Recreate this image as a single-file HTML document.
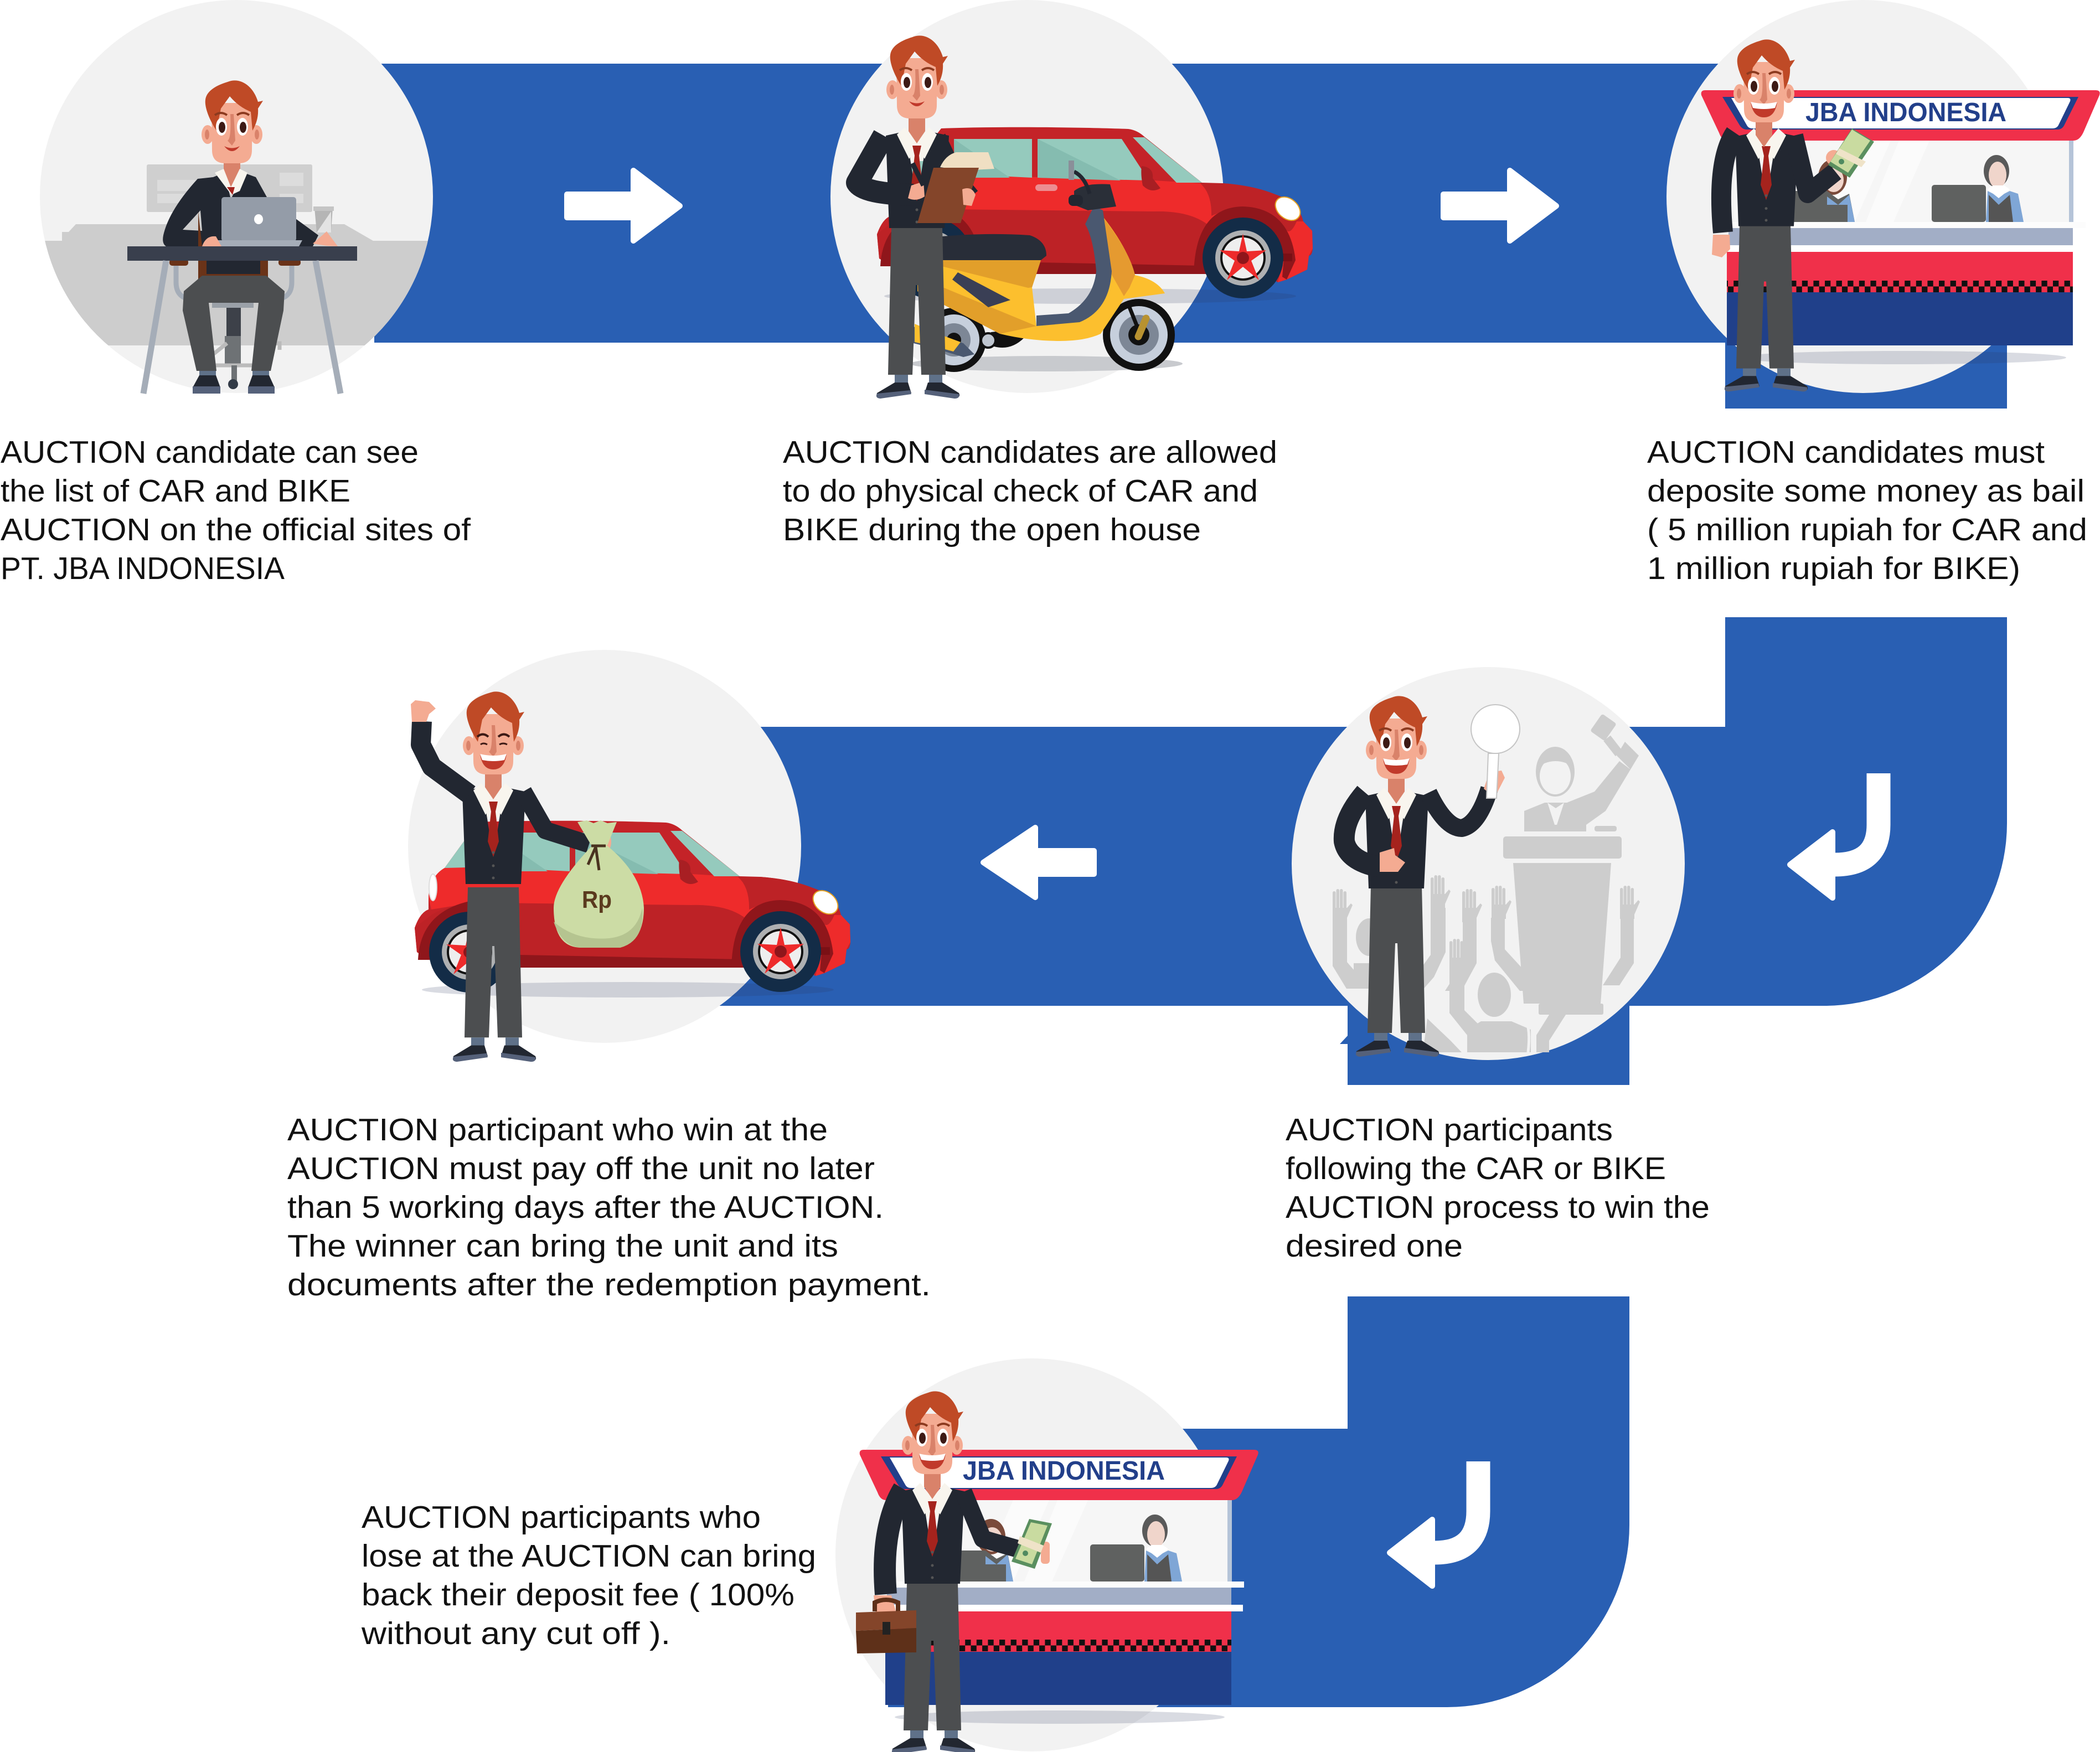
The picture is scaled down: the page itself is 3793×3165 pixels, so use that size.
<!DOCTYPE html>
<html><head><meta charset="utf-8"><style>html,body{margin:0;padding:0;background:#fff}svg{display:block}
.t{font-family:"Liberation Sans",sans-serif;font-size:57px;fill:#111}
.b{font-family:"Liberation Sans",sans-serif;font-weight:bold;font-size:48px;fill:#223f8a}</style></head><body>
<svg xmlns="http://www.w3.org/2000/svg" width="3793" height="3165" viewBox="0 0 3793 3165">
<defs>
<clipPath id="c1"><circle cx="427" cy="355" r="355"/></clipPath>
<clipPath id="c5"><rect x="2300" y="1200" width="760" height="701"/></clipPath>
<pattern id="chk" patternUnits="userSpaceOnUse" x="0" y="507" width="20.6" height="21"><rect x="0" y="0" width="10.3" height="10.5" fill="#111"/><rect x="10.3" y="10.5" width="10.3" height="10.5" fill="#111"/></pattern>
<pattern id="chk2" patternUnits="userSpaceOnUse" x="1599" y="2962" width="20.6" height="21"><rect x="0" y="0" width="10.3" height="10.5" fill="#111"/><rect x="10.3" y="10.5" width="10.3" height="10.5" fill="#111"/></pattern>

<g id="headbase">
<ellipse cx="-44" cy="97" rx="11" ry="17" fill="#f4ab92"/><ellipse cx="44" cy="97" rx="11" ry="17" fill="#f4ab92"/>
<ellipse cx="-45" cy="97" rx="4" ry="9" fill="#d9826a"/><ellipse cx="45" cy="97" rx="4" ry="9" fill="#d9826a"/>
<path d="M-15,135H15V172L0,194L-15,172Z" fill="#d9826a"/>
<path d="M-37,40H37L36,125Q36,149 12,149H-12Q-36,149 -36,125Z" fill="#f4ab92"/>
<path d="M-3,60L3,60L6,108L0,117L-8,108Q-1,105 -3,60Z" fill="#d9826a"/>
<path d="M-8,2C14,-7 38,8 47,38L56,36L47,50C48,65 44,78 37,90L34,56C20,50 8,42 -4,28L-20,50L-28,90C-40,72 -50,48 -48,34C-46,18 -28,8 -8,2Z" fill="#bf4a26"/>
</g>
<g id="eyes">
<path d="M-31,62Q-20,54 -9,62" stroke="#8c3a1f" stroke-width="4" fill="none"/><path d="M9,62Q20,54 31,62" stroke="#8c3a1f" stroke-width="4" fill="none"/>
<ellipse cx="-19" cy="83" rx="10" ry="16" fill="#fff"/><ellipse cx="19" cy="83" rx="10" ry="16" fill="#fff"/>
<ellipse cx="-18" cy="84" rx="6" ry="10" fill="#3d1a15"/><ellipse cx="20" cy="84" rx="6" ry="10" fill="#3d1a15"/>
</g>
<path id="smile" d="M-14,118Q0,136 14,118Q0,125 -14,118Z" fill="#c0392b"/>
<g id="openm"><path d="M-24,112Q0,120 24,112Q20,140 0,140Q-20,140 -24,112Z" fill="#c13a2b"/><path d="M-24,112Q0,118 24,112L20,123Q0,127 -20,123Z" fill="#fff"/></g>

<g id="torso">
<path d="M-20,166L-14,185L-2,225L0,225L14,185L22,166L38,226L-38,226Z" fill="#f8f5ee"/>
<path d="M-20,172L-56,180L-50,347H50L58,180L20,172L0,298Z" fill="#222731"/>
<path d="M-22,165L-36,178L-14,222L0,198L14,222L36,178L22,165L0,192Z" fill="#f8f5ee"/>
<path d="M-8,198H8L4,216L10,270L0,298L-10,270L-4,216Z" fill="#a5231d"/>
<circle cx="0" cy="290" r="2.500" fill="#555"/><circle cx="0" cy="314" r="2.500" fill="#555"/><circle cx="0" cy="336" r="2.500" fill="#555"/>
</g>
<g id="legs">
<path d="M-46,346H46L52,612H8L2,450H-2L-8,612H-52Z" fill="#4c4e50"/>
<rect x="-40" y="612" width="24" height="16" fill="#5f7189"/><rect x="22" y="612" width="24" height="16" fill="#5f7189"/>
<path d="M-16,626L-40,626L-72,645Q-74,652 -66,652L-10,645Z" fill="#222731"/>
<path d="M-72,646L-12,640L-10,647L-66,655Q-76,654 -72,646Z" fill="#55617a"/>
<path d="M20,626L46,626L76,645Q80,653 70,653L14,645Z" fill="#222731"/>
<path d="M14,639L76,647Q78,655 68,655L14,647Z" fill="#55617a"/>
</g>

<g id="car">
<ellipse cx="385" cy="305" rx="372" ry="14" fill="#2f3a60" opacity=".18"/>
<path d="M116,2C220,-2 380,0 454,3Q470,5 483,17L587,100L624,101Q680,105 719,121Q762,135 770,170L786,187L787,219Q786,232 780,232L777,257L740,275L724,280L700,265H100L27,251L4,237L0,193Q10,165 25,160L25,137Q28,100 54,85L91,34Z" fill="#c42328"/>
<path d="M79,84L500,96L584,101Q620,140 624,170L600,265H500L92,150L30,160L25,137Q28,100 54,85Z" fill="#ee2b2b"/>
<path d="M30,170Q60,150 130,148L500,152Q580,150 612,190L600,265H80L27,251L4,237L0,193Z" fill="#bd2226"/>
<path d="M90,240L590,250L600,265L110,265Z" fill="#8f161b"/>
<path d="M745,170L770,170L786,187L787,219L780,232L777,257L740,275L724,280L735,236Q735,200 745,170Z" fill="#ee2b2b"/>
<path d="M624,101Q680,105 719,121Q755,135 758,170Q745,200 735,180Q700,135 640,145L604,160Q605,120 584,101Z" fill="#bd2226"/>
<path d="M572,265Q575,145 660,143Q745,145 756,240L740,275L732,270L735,236Q720,170 660,165Q595,170 590,265Z" fill="#8f161b"/>
<path d="M6,251Q10,165 99,145Q185,150 190,265H165Q160,170 99,165Q30,175 27,251Z" fill="#8f161b"/>
<path d="M139,21H280V91L140,84Z" fill="#95cabd"/><path d="M139,21L240,91H140Z" fill="#85bcb0"/>
<path d="M290,21H442L491,96L290,91Z" fill="#95cabd"/><path d="M290,21L440,96L290,91Z" fill="#85bcb0"/>
<path d="M462,18H483L587,100H541Z" fill="#95cabd"/>
<path d="M54,85L91,34L95,84Z" fill="#95cabd"/>
<path d="M478,70Q500,72 498,92L512,110Q495,120 480,105Q476,85 478,70Z" fill="#a81f23"/>
<rect x="286" y="103" width="40" height="12" rx="6" fill="#ec8d91"/>
<ellipse cx="742" cy="147" rx="25" ry="18" fill="#fff" stroke="#e5a020" stroke-width="2" transform="rotate(40 742 147)"/>
<ellipse cx="33" cy="120" rx="7" ry="24" fill="#fff" stroke="#ddd" stroke-width="2"/>
<rect x="725" y="228" width="25" height="14" fill="#7a1015"/>
<g><circle cx="661" cy="236" r="73" fill="#132c47"/><circle cx="661" cy="236" r="50" fill="#aeb0b2"/><circle cx="661" cy="236" r="41" fill="#111"/><circle cx="661" cy="236" r="37" fill="#eee"/>
<path d="M661,192L668,224L703,222L676,241L690,276L661,252L632,276L646,241L619,222L654,224Z" fill="#ee2b2b"/><circle cx="661" cy="236" r="11" fill="#8f161b"/></g>
<g transform="translate(-562,1)"><circle cx="661" cy="236" r="73" fill="#132c47"/><circle cx="661" cy="236" r="50" fill="#aeb0b2"/><circle cx="661" cy="236" r="41" fill="#111"/><circle cx="661" cy="236" r="37" fill="#eee"/>
<path d="M661,192L668,224L703,222L676,241L690,276L661,252L632,276L646,241L619,222L654,224Z" fill="#ee2b2b"/><circle cx="661" cy="236" r="11" fill="#8f161b"/></g>
</g>

<g id="booth">
<path d="M3132,254H3737V401H3132Z" fill="#f6f6f6"/>
<path d="M3350,254H3415L3350,401H3285Z" fill="#fbfbfb"/><path d="M3430,254H3485L3420,401H3370Z" fill="#fbfbfb"/>
<rect x="3737" y="254" width="8" height="147" fill="#b5c4d8"/>
<ellipse cx="3310" cy="320" rx="26" ry="32" fill="#7a4a3a"/><ellipse cx="3312" cy="325" rx="18" ry="22" fill="#f0d5cb"/>
<path d="M3240,345H3300L3320,360L3340,350L3350,401H3240Z" fill="#5f6160"/><path d="M3300,355L3320,370L3340,352L3350,401H3300Z" fill="#7fa6d6"/><path d="M3300,370H3337V401H3300Z" fill="#5f6160"/>
<ellipse cx="3606" cy="309" rx="23" ry="29" fill="#5a5a5a"/><ellipse cx="3608" cy="316" rx="16" ry="24" fill="#f0d5cb"/>
<path d="M3590,345L3610,355L3630,345L3645,350L3655,401H3587Z" fill="#7fa6d6"/><path d="M3592,352L3610,370L3630,352L3636,401H3592Z" fill="#555"/><path d="M3590,342L3610,358L3630,342L3620,335H3600Z" fill="#fff"/>
<rect x="3489" y="334" width="98" height="67" rx="5" fill="#5f6160"/>
<path d="M3080,163H3785Q3795,163 3792,172L3763,239Q3756,254 3745,254H3120Q3110,254 3105,240L3073,172Q3071,163 3080,163Z" fill="#f0304a"/>
<path d="M3111,175H3754L3728,227Q3724,234 3716,234H3155Q3147,234 3142,226Z" fill="#223f8a"/>
<path d="M3127,177H3735Q3741,177 3739,183L3718,226Q3715,232 3707,232H3165Q3158,232 3155,226L3127,177Z" fill="#fff"/>
<rect x="3122" y="401" width="645" height="11" fill="#fcfcfc"/>
<rect x="3122" y="412" width="622" height="31" fill="#a2aec6"/>
<rect x="3119" y="443" width="646" height="12" fill="#fff"/>
<rect x="3119" y="455" width="625" height="54" fill="#f0304a"/>
<rect x="3119" y="507" width="625" height="21" fill="#f0304a"/>
<rect x="3119" y="528" width="625" height="96" fill="#20408a"/>
<ellipse cx="3434" cy="646" rx="298" ry="12" fill="#2f3a60" opacity=".18"/>
</g>
<g id="cash"><path d="M3345,232L3385,256L3341,321L3302,298Z" fill="#5a8f5f"/><path d="M3345,234L3378,254L3338,312L3306,292Z" fill="#c9dba0"/><path d="M3322,268L3370,292L3362,302L3316,278Z" fill="#efe3c8"/><circle cx="3326" cy="292" r="5" fill="#4f8a60"/></g>
<g id="ghand"><rect x="-13" y="-30" width="5.500" height="34" rx="2.700"/><rect x="-6.500" y="-34" width="5.500" height="38" rx="2.700"/><rect x="0" y="-34" width="5.500" height="38" rx="2.700"/><rect x="6.500" y="-30" width="5.500" height="34" rx="2.700"/><path d="M-13,0H13L20,-8L23,-5L13,18V26H-13Z"/></g>
</defs>

<rect width="3793" height="3165" fill="#fff"/>
<g fill="#295fb3">
<rect x="676" y="115" width="2449" height="504"/>
<rect x="3116" y="610" width="509" height="128"/>
<path d="M3116,1115H3625V1487A330,330 0 0 1 3295,1817H1300V1313H3116Z"/>
<rect x="2434" y="1810" width="509" height="150"/>
<path d="M2434,1871V1886H2420Z"/>
<path d="M2434,2342H2943V2755A329,329 0 0 1 2614,3084H1604V2581H2434Z"/>
</g>
<g fill="#fff" stroke="#fff" stroke-width="10" stroke-linejoin="round">
<path d="M1024,351H1144V308L1228,372L1144,435V393H1024Z"/>
<path d="M2607,351H2727V308L2811,372L2727,435V393H2607Z"/>
<path d="M1976,1537H1870V1495L1776,1558L1870,1621V1579H1976Z"/>
<path d="M3310,1503L3233,1562L3310,1622Z"/>
<path d="M2587,2745L2510,2805L2587,2865Z"/>
</g>
<path d="M3393,1397V1490Q3393,1562 3314,1562" fill="none" stroke="#fff" stroke-width="43"/>
<path d="M2670,2640V2730Q2670,2805 2591,2805" fill="none" stroke="#fff" stroke-width="43"/>
<g fill="#f2f2f2">
<circle cx="427" cy="355" r="355"/><circle cx="1855" cy="355" r="355"/><circle cx="3365" cy="355" r="355"/>
<circle cx="1092" cy="1529" r="355"/><circle cx="2688" cy="1560" r="355"/><circle cx="1864" cy="2809" r="355"/>
</g>

<!-- scene 1 -->
<g clip-path="url(#c1)">
<path d="M0,435H800V624H0Z" fill="#cdcdcd"/>
<path d="M112,435V419H124L137,405H622L674,435Z" fill="#cdcdcd"/>
</g>
<rect x="265" y="297" width="299" height="86" rx="3" fill="#cfcfcf"/>
<g fill="#dcdcdc"><rect x="284" y="325" width="90" height="20"/><rect x="284" y="350" width="70" height="17"/><rect x="505" y="312" width="43" height="24"/><rect x="505" y="350" width="43" height="17"/></g>
<path d="M568,375H601L598,420H572Z" fill="#b5b5b5"/><path d="M572,420L598,382V420Z" fill="#e3e3e3"/><rect x="566" y="373" width="37" height="8" fill="#c5c5c5"/>
<rect x="358" y="471" width="126" height="34" fill="#6a3318"/><rect x="373" y="471" width="97" height="24" fill="#222731"/>
<path d="M318,471V510Q318,535 340,540M527,471V510Q527,535 505,540" fill="none" stroke="#a5adb8" stroke-width="9"/>
<rect x="306" y="468" width="34" height="12" rx="5" fill="#6a3318"/><rect x="503" y="468" width="40" height="12" rx="5" fill="#6a3318"/>
<rect x="383" y="546" width="75" height="10" fill="#9aa0a8"/><rect x="409" y="556" width="26" height="54" fill="#3d4149"/><rect x="406" y="607" width="29" height="56" fill="#6e7275"/>
<path d="M385,640L410,620M460,620L505,620V632M385,660H470" stroke="#bbb" stroke-width="7" fill="none"/>
<rect x="418" y="660" width="10" height="30" fill="#6e7275"/><circle cx="421" cy="694" r="9" fill="#333b47"/>
<path d="M332,526L365,498H481L514,526L512,561L489,670H454L467,547H377L391,670H355L330,561Z" fill="#4c4e50"/>
<rect x="360" y="670" width="30" height="8" fill="#5f7189"/><rect x="456" y="670" width="30" height="8" fill="#5f7189"/>
<path d="M360,678H390L398,700H348Z" fill="#222731"/><rect x="348" y="698" width="50" height="13" fill="#55617a"/>
<path d="M456,678H486L496,700H448Z" fill="#222731"/><rect x="448" y="698" width="48" height="13" fill="#55617a"/>
<use href="#headbase" x="419" y="146"/><use href="#eyes" x="419" y="146"/><use href="#smile" x="419" y="146"/>
<path d="M385,320L405,312L417,360L440,312L462,320L498,385L534,395L575,425L565,445H300Q292,440 295,425Q305,380 357,323Z" fill="#222731"/>
<path d="M388,312L404,305L417,338L433,305L447,312L433,345L418,352Z" fill="#f8f5ee"/>
<path d="M410,338H424L420,352Z" fill="#a5231d"/>
<path d="M330,415L365,417L362,380Z" fill="#cdcdcd"/><path d="M358,382L365,445H358Z" fill="#6a3318"/>
<rect x="400" y="356" width="135" height="80" rx="5" fill="#949ca8"/><ellipse cx="467" cy="396" rx="8" ry="9" fill="#fff"/>
<path d="M390,434H546L540,445H396Z" fill="#a5adb8"/>
<path d="M365,445Q372,425 390,427L400,445Z" fill="#f4ab92"/>
<path d="M565,440L590,418L610,445L590,444Z" fill="#f4ab92"/><rect x="230" y="445" width="415" height="26" fill="#393f4d"/>
<path d="M300,471L259,711M570,471L615,711" stroke="#a5adb8" stroke-width="11" fill="none"/>

<!-- scene 2 -->
<use href="#car" x="1584" y="230"/>
<ellipse cx="1890" cy="657" rx="246" ry="14" fill="#c8cace"/>
<circle cx="1723" cy="614" r="58" fill="#111"/><circle cx="1723" cy="614" r="46" fill="#c6cfdc"/><circle cx="1723" cy="614" r="30" fill="#7d8796"/><circle cx="1723" cy="614" r="13" fill="#111"/>
<path d="M1780,620Q1820,640 1850,610L1835,595L1790,600Z" fill="#111"/><circle cx="1785" cy="615" r="13" fill="#bfc6d0" stroke="#111" stroke-width="4"/>
<circle cx="2057" cy="605" r="65" fill="#111"/><circle cx="2057" cy="605" r="52" fill="#c6cfdc"/><circle cx="2057" cy="605" r="36" fill="#7d8796"/><circle cx="2057" cy="605" r="19" fill="#111"/>
<path d="M2040,555L2062,610" stroke="#111" stroke-width="7"/><path d="M2070,575L2056,608" stroke="#b89230" stroke-width="13" stroke-linecap="round"/>
<path d="M1657,470H1880L1864,519L1872,589L1943,582Q1990,560 2005,491L1976,372Q2035,440 2050,497Q2090,505 2104,530L2030,540Q2010,570 1988,603Q1960,616 1914,616Q1860,616 1806,603L1657,526Z" fill="#fcbf2e"/>
<path d="M1657,470H1880L1864,519L1857,520ZM1657,500L1872,589L1806,603L1657,526Z" fill="#e29f2a"/>
<path d="M1976,372Q2040,450 2050,497L2040,520L2030,535L2005,491Z" fill="#e59a30"/>
<path d="M1976,372L1992,380L2008,490Q2004,560 1950,582L1872,589V570L1930,566Q1975,540 1980,490Q1975,430 1960,405Z" fill="#4a5870"/>
<path d="M1720,505L1730,492L1825,542L1785,555Z" fill="#3a3f55"/>
<path d="M1702,427Q1780,420 1860,425Q1890,435 1890,462L1880,470H1702Z" fill="#282d38"/>
<path d="M1940,345Q1958,330 2005,333L2016,373L1965,380L1940,370Z" fill="#2a2f38"/><path d="M1940,310Q1960,320 1968,350" stroke="#222731" stroke-width="7" fill="none"/><rect x="1930" y="352" width="26" height="20" rx="8" fill="#222731"/>
<rect x="1930" y="290" width="10" height="35" fill="#8a8f99"/>
<path d="M1650,590L1680,600L1740,620L1760,640L1740,645L1690,630L1650,620Z" fill="#4a5870"/><path d="M1652,585L1700,605L1735,618L1722,635L1685,625L1652,618Z" fill="#fcbf2e"/>
<use href="#legs" x="1656" y="65"/><use href="#torso" x="1656" y="65"/><use href="#headbase" x="1656" y="65"/><use href="#eyes" x="1656" y="65"/><use href="#smile" x="1656" y="65"/>
<path d="M1596,245L1548,330Q1560,350 1650,352" fill="none" stroke="#222731" stroke-width="40" stroke-linejoin="round"/>
<path d="M1700,245L1735,320L1760,350" fill="none" stroke="#222731" stroke-width="16"/>
<path d="M1646,335L1668,328L1670,355Q1655,365 1640,358Z" fill="#f4ab92"/>
<path d="M1698,302Q1708,280 1727,275H1785L1796,305L1740,308Z" fill="#f0dfc3"/>
<path d="M1686,303H1768L1735,403H1657Z" fill="#84452a"/>
<path d="M1738,342Q1755,335 1762,352L1755,372L1740,370Z" fill="#f4ab92"/>
<path d="M1648,295L1668,335" stroke="#222731" stroke-width="9"/>

<!-- scene 3 -->
<use href="#booth"/>
<rect x="3119" y="507" width="625" height="21" fill="url(#chk)"/>
<text class="b" x="3261" y="219" textLength="363" lengthAdjust="spacingAndGlyphs">JBA INDONESIA</text>
<g transform="translate(3188,72) scale(1,.97)"><use href="#legs"/></g>
<g transform="translate(3190,72) scale(1,.97)"><use href="#torso"/></g>
<use href="#headbase" x="3186" y="72"/><use href="#eyes" x="3186" y="72"/><use href="#openm" x="3186" y="72"/>
<path d="M3134,240Q3100,290 3112,420" fill="none" stroke="#222731" stroke-width="36"/>
<path d="M3094,424H3124L3125,450L3110,465L3092,460Z" fill="#f4ab92"/>
<path d="M3240,245L3265,350L3315,310" fill="none" stroke="#222731" stroke-width="34" stroke-linejoin="round"/>
<circle cx="3312" cy="285" r="14" fill="#f4ab92"/>
<use href="#cash"/>

<!-- scene 4 -->
<use href="#car" x="749" y="1483"/>
<g transform="translate(891,1250) scale(1,1.02)"><use href="#legs"/></g>
<use href="#torso" x="891" y="1250"/><use href="#headbase" x="891" y="1250"/><use href="#openm" x="891" y="1250"/>
<path d="M862,1331Q872,1322 882,1331M900,1331Q910,1322 920,1331" fill="none" stroke="#3d1a15" stroke-width="4"/>
<path d="M868,1345Q873,1341 880,1345M902,1345Q909,1341 916,1345" fill="none" stroke="#3d1a15" stroke-width="3"/>
<path d="M848,1435L780,1385L760,1345L762,1303" fill="none" stroke="#222731" stroke-width="36" stroke-linejoin="round"/>
<path d="M744,1304L742,1272L750,1265L775,1268L787,1280L775,1290L770,1304Z" fill="#f4ab92"/>
<path d="M945,1430L985,1500L1064,1525" fill="none" stroke="#222731" stroke-width="32" stroke-linejoin="round"/>
<ellipse cx="1098" cy="1521" rx="6" ry="14" fill="#f4ab92"/>
<path d="M1072,1525Q1000,1600 1000,1640Q1000,1712 1050,1712H1120Q1163,1700 1163,1640Q1160,1580 1097,1528Z" fill="#ccdca5"/>
<path d="M1000,1665Q1040,1700 1100,1695Q1150,1690 1160,1640Q1165,1700 1120,1712H1050Q1015,1710 1000,1665Z" fill="#b5c490"/>
<path d="M1043,1485L1060,1482L1072,1487L1085,1482L1097,1487L1114,1485L1097,1527H1068Z" fill="#ccdca5"/>
<path d="M1068,1528H1094M1076,1530L1062,1562M1076,1530L1082,1572" stroke="#4a3320" stroke-width="5" fill="none"/>
<text x="1078" y="1640" text-anchor="middle" font-family="Liberation Sans,sans-serif" font-weight="bold" font-size="44" fill="#5a3a1e" textLength="54" lengthAdjust="spacingAndGlyphs">Rp</text>

<!-- scene 5 -->
<g fill="#cdcdcd" clip-path="url(#c5)">
<rect x="2715" y="1511" width="214" height="40" rx="5"/>
<path d="M2733,1559H2910L2891,1813H2752Z"/><rect x="2779" y="1813" width="117" height="20" rx="3"/>
<ellipse cx="2809" cy="1394" rx="35" ry="45"/><ellipse cx="2809" cy="1402" rx="28" ry="33" fill="#f2f2f2"/><path d="M2778,1385Q2809,1365 2842,1385Q2842,1360 2809,1355Q2778,1360 2778,1385Z"/>
<path d="M2753,1502V1465L2790,1450H2830L2880,1430L2925,1375L2945,1390L2900,1465L2865,1490V1502Z"/>
<path d="M2795,1450L2808,1490H2812L2825,1450L2810,1460Z" fill="#f2f2f2"/>
<rect x="2880" y="1295" width="32" height="38" rx="4" transform="rotate(35 2896 1314)"/><rect x="2905" y="1330" width="16" height="35" transform="rotate(-38 2913 1347)"/>
<path d="M2920,1365L2935,1340L2960,1365L2945,1390Z"/><rect x="2880" y="1492" width="40" height="10" rx="4"/>
<use href="#ghand" x="2420" y="1640"/><use href="#ghand" x="2597" y="1615"/><use href="#ghand" x="2654" y="1640"/><use href="#ghand" x="2707" y="1634"/><use href="#ghand" x="2939" y="1634"/><use href="#ghand" x="2631" y="1730"/>
<path d="M2407,1664H2433V1738L2465,1775V1786H2432L2407,1745Z"/>
<ellipse cx="2473" cy="1693" rx="24" ry="34"/><path d="M2445,1740H2510V1786H2445Z"/>
<path d="M2584,1640H2611V1720L2590,1765L2568,1790L2540,1786L2584,1725Z"/>
<path d="M2642,1664H2667V1740L2640,1790H2610L2642,1740Z"/>
<path d="M2693,1658H2718V1715L2752,1752V1790H2745L2700,1735L2693,1700Z"/>
<path d="M2927,1658H2951V1740L2925,1780H2895L2927,1730Z"/>
<path d="M2618,1755H2645V1825L2680,1860V1880L2650,1870L2618,1830Z"/>
<ellipse cx="2699" cy="1797" rx="30" ry="40"/><path d="M2650,1860L2675,1845H2730L2765,1860V1901H2650Z"/>
<path d="M2578,1840L2620,1880L2640,1901H2570Z"/><path d="M2775,1901V1870L2800,1830H2830L2798,1880V1901Z"/>
</g>
<path d="M2575,1790L2625,1860" stroke="#f2f2f2" stroke-width="5" fill="none"/>
<path d="M2690,1840L2755,1840Q2765,1860 2760,1901" stroke="#f2f2f2" stroke-width="5" fill="none"/>
<use href="#legs" x="2522" y="1258" transform="translate(0,-4)"/>
<use href="#torso" x="2522" y="1258"/><use href="#headbase" x="2522" y="1258"/><use href="#eyes" x="2522" y="1258"/><use href="#openm" x="2522" y="1258"/>
<path d="M2466,1432Q2425,1480 2428,1520Q2435,1555 2490,1566" fill="none" stroke="#222731" stroke-width="38" stroke-linejoin="round"/>
<path d="M2580,1432Q2610,1495 2640,1496Q2670,1490 2690,1425" fill="none" stroke="#222731" stroke-width="32"/>
<path d="M2492,1540L2518,1532L2520,1545L2538,1558L2525,1575H2492Z" fill="#f4ab92"/>
<path d="M2680,1425L2690,1395L2712,1392L2718,1405L2700,1440Z" fill="#f4ab92"/>
<path d="M2688,1361H2707L2703,1442H2685Z" fill="#fff" stroke="#c5c5c5" stroke-width="2"/>
<ellipse cx="2701" cy="1317" rx="44" ry="44" fill="#fff" stroke="#c5c5c5" stroke-width="2"/>

<!-- scene 6 -->
<g transform="translate(-1520,2456)"><use href="#booth"/></g>
<rect x="1599" y="2962" width="625" height="21" fill="url(#chk2)"/>
<text class="b" x="1739" y="2673" textLength="365" lengthAdjust="spacingAndGlyphs">JBA INDONESIA</text>
<use href="#legs" x="1684" y="2514"/><use href="#torso" x="1684" y="2514"/><use href="#headbase" x="1684" y="2514"/><use href="#eyes" x="1684" y="2514"/><use href="#openm" x="1684" y="2514"/>
<path d="M1632,2690Q1590,2760 1600,2880" fill="none" stroke="#222731" stroke-width="40"/>
<path d="M1578,2882H1610L1622,2925H1595L1582,2918Z" fill="#f4ab92"/>
<path d="M1740,2695L1775,2780L1845,2800" fill="none" stroke="#222731" stroke-width="32" stroke-linejoin="round"/>
<rect x="1880" y="2785" width="16" height="40" rx="6" fill="#f4ab92"/>
<path d="M1859,2744L1900,2752L1869,2834L1827,2821Z" fill="#5a8f5f"/><path d="M1862,2750L1892,2756L1864,2826L1834,2816Z" fill="#c9dba0"/><path d="M1842,2775L1885,2792L1880,2805L1838,2788Z" fill="#efe3c8"/><circle cx="1852" cy="2806" r="5" fill="#4f8a60"/>
<path d="M1580,2911V2895Q1600,2885 1622,2895V2911" fill="none" stroke="#5e3019" stroke-width="8"/>
<path d="M1546,2913L1655,2909V2941L1546,2946Z" fill="#84452a"/><path d="M1546,2946L1655,2941V2985L1548,2987Z" fill="#5e3019"/><rect x="1594" y="2930" width="14" height="23" fill="#222"/>

<!-- labels -->
<text class="t" x="1" y="836" textLength="755" lengthAdjust="spacingAndGlyphs">AUCTION candidate can see</text>
<text class="t" x="1" y="906" textLength="632" lengthAdjust="spacingAndGlyphs">the list of CAR and BIKE</text>
<text class="t" x="1" y="976" textLength="849" lengthAdjust="spacingAndGlyphs">AUCTION on the official sites of</text>
<text class="t" x="1" y="1046" textLength="513" lengthAdjust="spacingAndGlyphs">PT. JBA INDONESIA</text>
<text class="t" x="1414" y="836" textLength="893" lengthAdjust="spacingAndGlyphs">AUCTION candidates are allowed</text>
<text class="t" x="1414" y="906" textLength="858" lengthAdjust="spacingAndGlyphs">to do physical check of CAR and</text>
<text class="t" x="1414" y="976" textLength="755" lengthAdjust="spacingAndGlyphs">BIKE during the open house</text>
<text class="t" x="2975" y="836" textLength="718" lengthAdjust="spacingAndGlyphs">AUCTION candidates must</text>
<text class="t" x="2975" y="906" textLength="790" lengthAdjust="spacingAndGlyphs">deposite some money as bail</text>
<text class="t" x="2975" y="976" textLength="795" lengthAdjust="spacingAndGlyphs">( 5 million rupiah for CAR and</text>
<text class="t" x="2975" y="1046" textLength="674" lengthAdjust="spacingAndGlyphs">1 million rupiah for BIKE)</text>
<text class="t" x="519" y="2060" textLength="976" lengthAdjust="spacingAndGlyphs">AUCTION participant who win at the</text>
<text class="t" x="519" y="2130" textLength="1061" lengthAdjust="spacingAndGlyphs">AUCTION must pay off the unit no later</text>
<text class="t" x="519" y="2200" textLength="1077" lengthAdjust="spacingAndGlyphs">than 5 working days after the AUCTION.</text>
<text class="t" x="519" y="2270" textLength="995" lengthAdjust="spacingAndGlyphs">The winner can bring the unit and its</text>
<text class="t" x="519" y="2340" textLength="1162" lengthAdjust="spacingAndGlyphs">documents after the redemption payment.</text>
<text class="t" x="2322" y="2060" textLength="591" lengthAdjust="spacingAndGlyphs">AUCTION participants</text>
<text class="t" x="2322" y="2130" textLength="687" lengthAdjust="spacingAndGlyphs">following the CAR or BIKE</text>
<text class="t" x="2322" y="2200" textLength="766" lengthAdjust="spacingAndGlyphs">AUCTION process to win the</text>
<text class="t" x="2322" y="2270" textLength="320" lengthAdjust="spacingAndGlyphs">desired one</text>
<text class="t" x="653" y="2760" textLength="721" lengthAdjust="spacingAndGlyphs">AUCTION participants who</text>
<text class="t" x="653" y="2830" textLength="821" lengthAdjust="spacingAndGlyphs">lose at the AUCTION can bring</text>
<text class="t" x="653" y="2900" textLength="782" lengthAdjust="spacingAndGlyphs">back their deposit fee ( 100%</text>
<text class="t" x="653" y="2970" textLength="558" lengthAdjust="spacingAndGlyphs">without any cut off ).</text>
</svg>
</body></html>
